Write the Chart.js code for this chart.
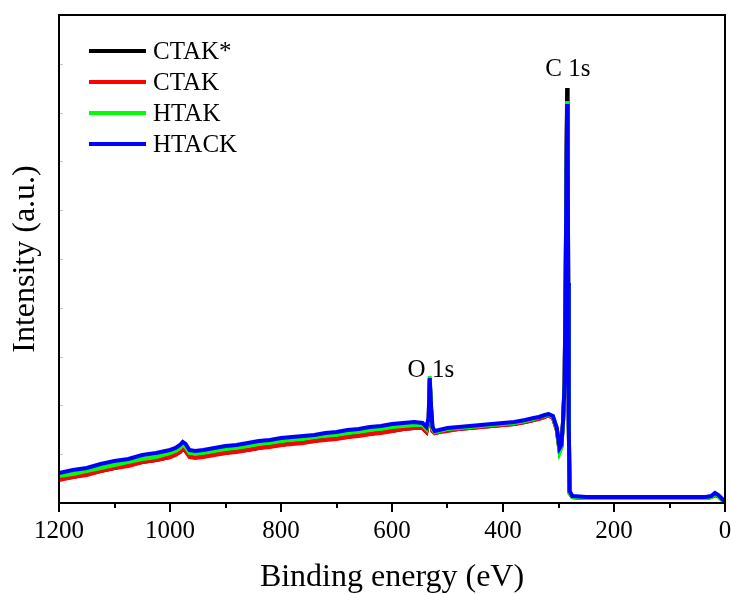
<!DOCTYPE html>
<html>
<head>
<meta charset="utf-8">
<script src="https://cdn.jsdelivr.net/npm/chart.js@4.4.0/dist/chart.umd.min.js"></script>
<style>
  body { margin: 0; background: #fff; }
</style>
</head>
<body>
<canvas id="grafico" width="731" height="594"></canvas>
<script>
// XPS survey spectra, intensities in arbitrary units

const energy = [1200, 1175, 1150, 1125, 1100, 1075, 1050, 1025, 1000, 990,
  982, 977, 972, 965, 955, 940, 920, 900, 880, 860,
  840, 820, 800, 780, 760, 740, 720, 700, 680, 660,
  640, 620, 600, 580, 560, 545, 538, 534, 532, 530,
  527, 523, 515, 500, 480, 460, 440, 420, 400, 380,
  360, 345, 335, 325, 318, 310, 303, 298, 295, 292,
  289, 287, 285.5, 284.5, 283.5, 282.5, 281.5, 280, 275, 250,
  200, 150, 100, 60, 35, 25, 18, 12, 5, 0];

const ctakStar = [24, 26, 29, 32, 35, 38, 41, 43, 46, 49,
  51, 54, 52, 47, 46, 47, 49, 50, 52, 53,
  55, 57, 58, 60, 61, 62, 64, 65, 66, 68,
  69, 71, 72, 74, 75, 75, 71, 82, 123, 96,
  72, 70, 71, 73, 74, 75, 76, 77, 78, 79,
  81, 83, 85, 86, 88, 85, 73, 52, 56, 79,
  118, 230, 345, 415, 365, 220, 80, 10, 6, 5,
  5, 5, 5, 5, 5, 6, 8, 7, 3, 1];

const ctak = [23, 26, 28, 32, 35, 37, 41, 43, 46, 48,
  51, 54, 52, 46, 45, 46, 48, 50, 51, 53,
  55, 56, 58, 59, 60, 62, 63, 64, 66, 67,
  69, 70, 72, 74, 75, 75, 71, 82, 124, 96,
  72, 70, 71, 72, 74, 75, 76, 77, 78, 79,
  81, 83, 84, 86, 88, 85, 73, 52, 56, 79,
  117, 226, 336, 400, 356, 216, 78, 10, 6, 5,
  5, 5, 5, 5, 5, 6, 8, 7, 3, 1];

const htak = [27, 29, 32, 35, 38, 41, 44, 46, 50, 52,
  55, 58, 56, 50, 49, 50, 52, 54, 55, 57,
  59, 60, 62, 63, 64, 66, 67, 68, 70, 71,
  73, 74, 76, 77, 78, 78, 74, 84, 127, 98,
  74, 71, 72, 74, 75, 76, 77, 78, 79, 80,
  82, 84, 86, 87, 89, 86, 74, 51, 56, 78,
  118, 228, 338, 402, 358, 218, 78, 10, 6, 5,
  5, 5, 5, 5, 5, 6, 9, 7, 3, 1];

const htack = [30, 33, 35, 39, 42, 44, 48, 50, 53, 55,
  58, 61, 59, 53, 52, 53, 55, 57, 58, 60,
  62, 63, 65, 66, 67, 68, 70, 71, 73, 74,
  76, 77, 79, 80, 81, 80, 76, 85, 125, 100,
  76, 72, 73, 75, 76, 77, 78, 79, 80, 81,
  83, 85, 86, 88, 89, 87, 75, 55, 58, 80,
  120, 230, 340, 399, 360, 220, 80, 12, 7, 6,
  6, 6, 6, 6, 6, 7, 10, 8, 4, 1];

const names = ['CTAK*', 'CTAK', 'HTAK', 'HTACK'];
const colors = ['#000000', '#ff0000', '#00ff00', '#0000ff'];
const series = [ctakStar, ctak, htak, htack];

const peakNames = ['C 1s', 'O 1s'];
const peakEnergy = [283, 530];
const peakLabelY = [427, 126];

const yMax = 488;
const serif = 'Liberation Serif';

// frame, tick marks, peak labels and legend
const decor = {
  id: 'decor',
  afterDraw(chart) {
    const { ctx, chartArea: a, scales: { x, y } } = chart;
    ctx.save();

    ctx.strokeStyle = '#c8c8c8';
    ctx.lineWidth = 1;
    for (let k = 1; k < 10; k++) {
      const py = Math.round(y.getPixelForValue(yMax * k / 10)) + 0.5;
      ctx.beginPath();
      ctx.moveTo(a.left, py);
      ctx.lineTo(a.left + 4, py);
      ctx.stroke();
    }

    ctx.strokeStyle = '#000';
    ctx.lineWidth = 2;
    ctx.strokeRect(a.left, a.top, a.right - a.left, a.bottom - a.top);
    for (let v = 0; v <= 1200; v += 100) {
      const px = Math.round(x.getPixelForValue(v));
      ctx.beginPath();
      ctx.moveTo(px, a.bottom);
      ctx.lineTo(px, a.bottom + (v % 200 === 0 ? 9 : 5));
      ctx.stroke();
    }

    ctx.fillStyle = '#000';
    ctx.font = '25px "' + serif + '"';
    ctx.textAlign = 'center';
    ctx.textBaseline = 'alphabetic';
    peakNames.forEach((t, i) => {
      ctx.fillText(t, x.getPixelForValue(peakEnergy[i]), y.getPixelForValue(peakLabelY[i]));
    });

    ctx.textAlign = 'left';
    ctx.textBaseline = 'middle';
    ctx.lineWidth = 4;
    names.forEach((n, i) => {
      const ly = a.top + 36 + i * 31;
      ctx.strokeStyle = colors[i];
      ctx.beginPath();
      ctx.moveTo(a.left + 30, ly);
      ctx.lineTo(a.left + 87, ly);
      ctx.stroke();
      ctx.fillText(n, a.left + 94, ly + 1);
    });

    ctx.restore();
  }
};

new Chart(document.getElementById('grafico'), {
  type: 'line',
  data: {
    datasets: series.map((s, i) => ({
      label: names[i],
      data: energy.map((e, j) => ({ x: e, y: s[j] })),
      borderColor: colors[i],
      borderWidth: 4,
      pointRadius: 0,
      tension: 0,
      order: 4 - i
    }))
  },
  options: {
    responsive: false,
    animation: false,
    layout: { padding: { top: 15, right: 6, left: 0, bottom: 0 } },
    plugins: { legend: { display: false }, tooltip: { enabled: false } },
    scales: {
      x: {
        type: 'linear',
        min: 0,
        max: 1200,
        reverse: true,
        afterFit: s => { s.height = 91; s.paddingLeft = 0; s.paddingRight = 0; },
        grid: { display: false, drawTicks: false },
        border: { display: false },
        ticks: {
          stepSize: 200,
          padding: 13,
          color: '#000',
          font: { family: serif, size: 25 },
          callback: v => String(v)
        },
        title: {
          display: true,
          text: 'Binding energy (eV)',
          color: '#000',
          font: { family: serif, size: 32, lineHeight: 1 },
          padding: 0
        }
      },
      y: {
        min: 0,
        max: yMax,
        afterFit: s => { s.width = 59; },
        grid: { display: false, drawTicks: false },
        border: { display: false },
        ticks: { display: false },
        title: {
          display: true,
          text: 'Intensity (a.u.)',
          color: '#000',
          font: { family: serif, size: 32, lineHeight: 1 },
          padding: { top: 10, bottom: 0 }
        }
      }
    }
  },
  plugins: [decor]
});
</script>
</body>
</html>
